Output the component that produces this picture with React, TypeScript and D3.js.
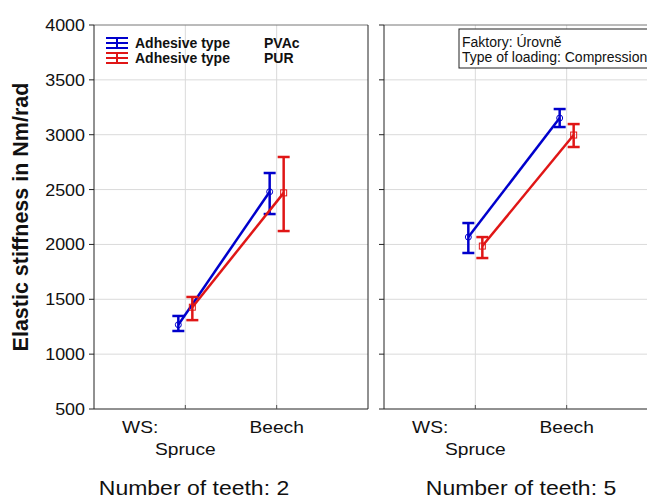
import React from "react";
import { scaleLinear, scalePoint, scaleBand, line } from "d3";

// categories
const woods = ["WS: Spruce", "Beech"];
const woodLabels = [["WS:", "Spruce"], ["Beech"]];
const teeth = ["2", "5"];
const adhesives = ["PVAc", "PUR"];
const yTicks = [500, 1000, 1500, 2000, 2500, 3000, 3500, 4000];

// means and error bar ends, teeth = 2
const pvacMeanT2 = [1268, 2480];
const pvacLowT2 = [1211, 2277];
const pvacHighT2 = [1348, 2651];
const purMeanT2 = [1428, 2470];
const purLowT2 = [1310, 2122];
const purHighT2 = [1521, 2797];

// teeth = 5
const pvacMeanT5 = [2067, 3152];
const pvacLowT5 = [1922, 3070];
const pvacHighT5 = [2195, 3234];
const purMeanT5 = [1985, 2997];
const purLowT5 = [1876, 2888];
const purHighT5 = [2067, 3097];

const colors = { PVAc: "#0000cc", PUR: "#e01616" };

const panels = [
  {
    teeth: teeth[0],
    series: [
      { key: "PVAc", mean: pvacMeanT2, low: pvacLowT2, high: pvacHighT2 },
      { key: "PUR", mean: purMeanT2, low: purLowT2, high: purHighT2 },
    ],
  },
  {
    teeth: teeth[1],
    series: [
      { key: "PVAc", mean: pvacMeanT5, low: pvacLowT5, high: pvacHighT5 },
      { key: "PUR", mean: purMeanT5, low: purLowT5, high: purHighT5 },
    ],
  },
];

const W = 647;
const H = 499;
const top = 25;
const bottom = 409;
const panelW = 274;
const panelLefts = [94, 384];
const titleX = [194, 521];
const font = "Arial, 'Liberation Sans', sans-serif";

export default function App() {
  const y = scaleLinear().domain([500, 4000]).range([bottom, top]);
  const dodge = scaleBand().domain(adhesives).range([-14, 14]);
  const off = (k: string) => (dodge(k) as number) + dodge.bandwidth() / 2;

  return (
    <svg width={W} height={H} style={{ position: "absolute", left: 0, top: 0, background: "#fff" }} fontFamily={font}>
      <rect width={W} height={H} fill="#fff" />
      {panels.map((p, pi) => {
        const left = panelLefts[pi];
        const x = scalePoint().domain(woods).range([left, left + panelW]).padding(1);
        return (
          <g key={pi}>
            {/* grid */}
            {yTicks.slice(1, -1).map((t) => (
              <line key={t} x1={left} x2={left + panelW} y1={y(t)} y2={y(t)} stroke="#dadada" />
            ))}
            {woods.map((w) => (
              <line key={w} x1={x(w)} x2={x(w)} y1={top} y2={bottom} stroke="#dadada" />
            ))}
            {/* frame */}
            <line x1={left} x2={left + panelW} y1={top} y2={top} stroke="#777" />
            <line x1={left} x2={left} y1={top} y2={bottom} stroke="#222" />
            <line x1={left + panelW} x2={left + panelW} y1={top} y2={bottom} stroke="#222" />
            <line x1={left} x2={left + panelW} y1={bottom} y2={bottom} stroke="#222" />
            {/* y ticks */}
            {yTicks.map((t) => (
              <line key={t} x1={left - 5} x2={left} y1={y(t)} y2={y(t)} stroke="#222" />
            ))}
            {/* x ticks */}
            {woods.map((w) => (
              <line key={w} x1={x(w)} x2={x(w)} y1={bottom - 4} y2={bottom} stroke="#555" />
            ))}
            {/* x labels */}
            {woods.map((w, i) => {
              const lines = woodLabels[i];
              const cx = x(w) as number;
              if (lines.length === 1) {
                return (
                  <text key={w} transform={`translate(${cx},433) scale(1.2,1)`} textAnchor="middle" fontSize={16} fill="#111">
                    {lines[0]}
                  </text>
                );
              }
              return (
                <g key={w}>
                  <text transform={`translate(${cx - 27},433) scale(1.2,1)`} textAnchor="end" fontSize={16} fill="#111">
                    {lines[0]}
                  </text>
                  <text transform={`translate(${cx},455) scale(1.2,1)`} textAnchor="middle" fontSize={16} fill="#111">
                    {lines[1]}
                  </text>
                </g>
              );
            })}
            {/* series */}
            {p.series.map((s) => {
              const c = colors[s.key as keyof typeof colors];
              const o = off(s.key);
              const path = line<number>()
                .x((_, i) => (x(woods[i]) as number) + o)
                .y((d) => y(d))(s.mean);
              return (
                <g key={s.key}>
                  <path d={path || ""} fill="none" stroke={c} strokeWidth={2.5} />
                  {s.mean.map((m, i) => {
                    const cx = (x(woods[i]) as number) + o;
                    return (
                      <g key={i} stroke={c}>
                        <line x1={cx} x2={cx} y1={y(s.low[i])} y2={y(s.high[i])} strokeWidth={2.5} />
                        <line x1={cx - 6} x2={cx + 6} y1={y(s.low[i])} y2={y(s.low[i])} strokeWidth={2.5} />
                        <line x1={cx - 6} x2={cx + 6} y1={y(s.high[i])} y2={y(s.high[i])} strokeWidth={2.5} />
                        {s.key === "PVAc" ? (
                          <circle cx={cx} cy={y(m)} r={3} fill="none" strokeWidth={1} />
                        ) : (
                          <rect x={cx - 3} y={y(m) - 3} width={6} height={6} fill="none" strokeWidth={1} />
                        )}
                      </g>
                    );
                  })}
                </g>
              );
            })}
            <text transform={`translate(${titleX[pi]},495) scale(1.15,1)`} textAnchor="middle" fontSize={20} fill="#111">
              {`Number of teeth: ${p.teeth}`}
            </text>
          </g>
        );
      })}
      {/* y tick labels */}
      {yTicks.map((t) => (
        <text key={t} transform={`translate(85,${y(t) + 6}) scale(1.12,1)`} textAnchor="end" fontSize={16} fill="#111">
          {t}
        </text>
      ))}
      <text transform="translate(28,217) rotate(-90)" textAnchor="middle" fontSize={21.5} fontWeight="bold" fill="#111">
        Elastic stiffness in Nm/rad
      </text>
      {/* legend */}
      {adhesives.map((a, i) => {
        const ly = 43 + i * 15;
        const c = colors[a as keyof typeof colors];
        return (
          <g key={a}>
            <g stroke={c} strokeWidth={2}>
              <line x1={106} x2={128} y1={ly - 5} y2={ly - 5} />
              <line x1={106} x2={128} y1={ly} y2={ly} />
              <line x1={106} x2={128} y1={ly + 5} y2={ly + 5} />
              <line x1={117} x2={117} y1={ly - 5} y2={ly + 5} />
            </g>
            <text x={135} y={ly + 5} fontSize={14} fontWeight="bold" fill="#111">Adhesive type</text>
            <text x={264} y={ly + 5} fontSize={14} fontWeight="bold" fill="#111">{a}</text>
          </g>
        );
      })}
      <rect x={459} y={29} width={200} height={39} fill="#fff" stroke="#222" />
      <text x={462} y={47} fontSize={14} fill="#111">Faktory: Úrovně</text>
      <text x={462} y={62} fontSize={14} fill="#111">Type of loading: Compression</text>
    </svg>
  );
}
